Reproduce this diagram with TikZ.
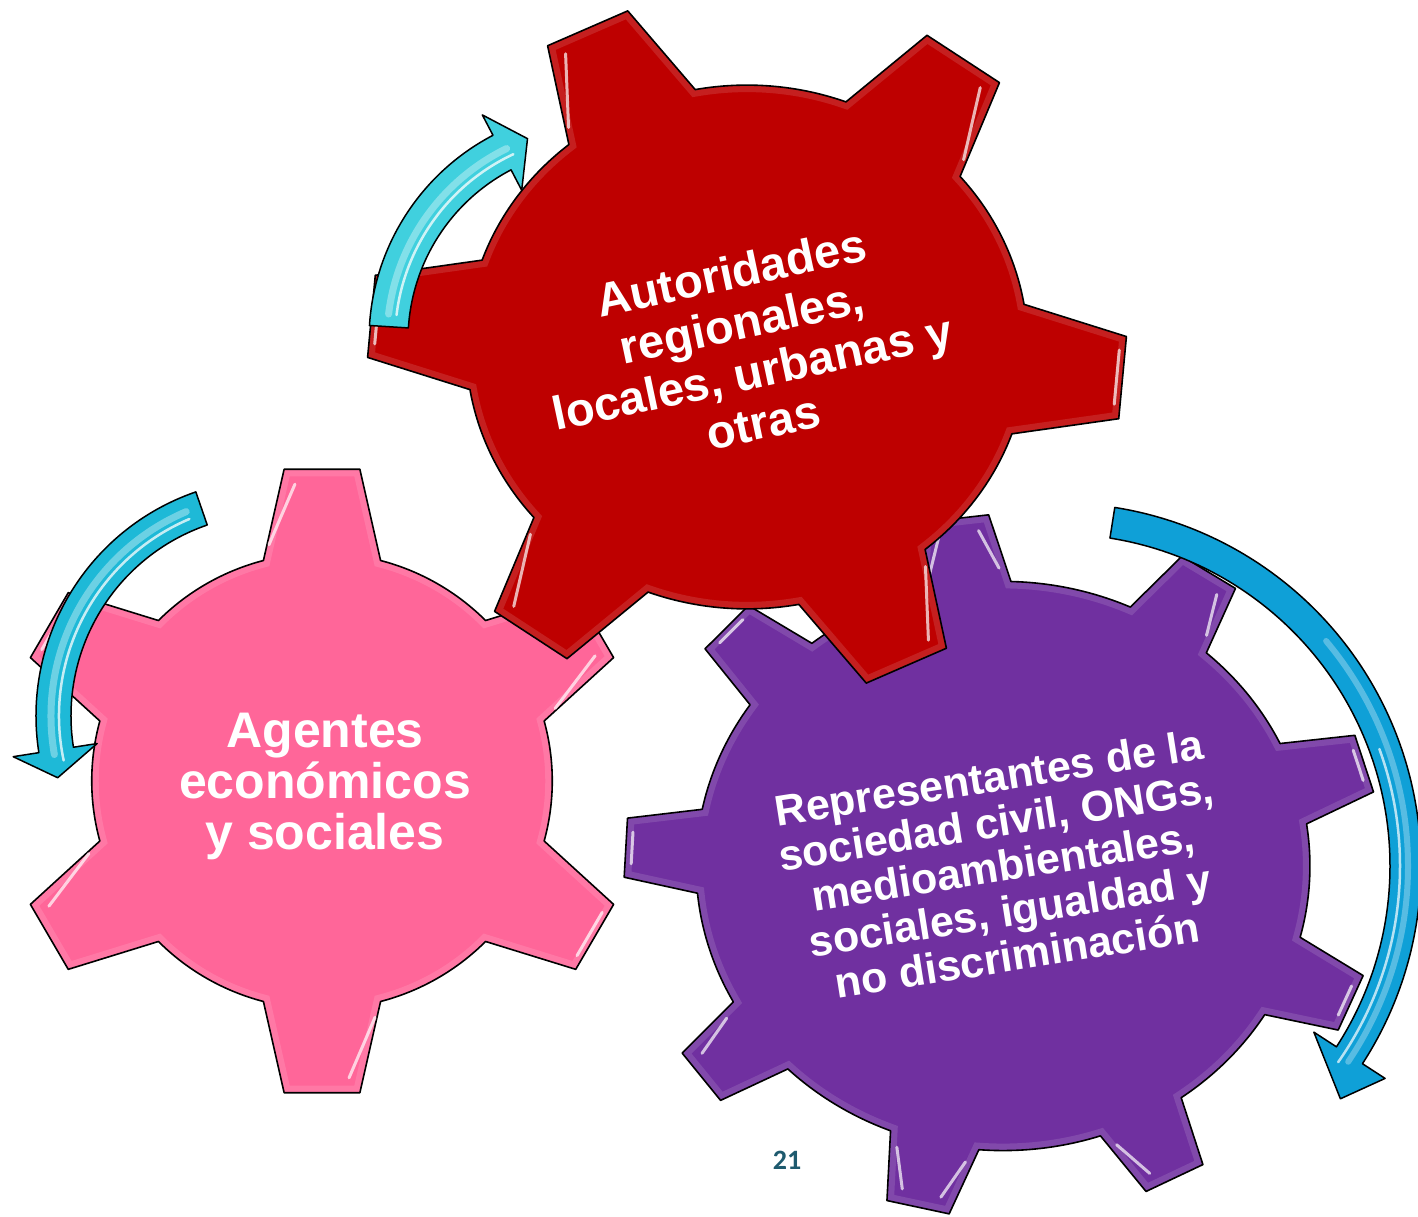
\documentclass[tikz,border=0pt]{standalone}
\usepackage{fontspec}
\setmainfont{Liberation Sans}
\newfontfamily\calib{Carlito}
\definecolor{gred}{RGB}{190,0,0}
\definecolor{gpink}{RGB}{255,102,153}
\definecolor{gpurple}{RGB}{112,48,160}
\definecolor{arrA}{RGB}{64,208,222}
\definecolor{arrB}{RGB}{30,185,215}
\definecolor{arrC}{RGB}{15,160,215}
\definecolor{pagenum}{RGB}{30,90,110}
% #1 N, #2 N-1, #3 offset angle, #4 tip radius, #5 body radius, #6 tip half-angle, #7 base half-angle
\newcommand\gearpath[7]{(#3-#7:#5) \foreach \i [evaluate=\i as \ang using #3+\i*360/#1] in {0,...,#2} { -- (\ang-#6:#4) -- (\ang+#6:#4) -- (\ang+#7:#5) arc[start angle=\ang+#7, end angle=\ang+360/#1-#7, radius=#5] } -- cycle}
% #1 R, #2 r, #3 bt, #4 bb, #5 side list angle/sign, #6 tip list
\newcommand\gearhl[6]{%
  \foreach \ang/\sg in {#5} { \draw[hl] ({\ang+\sg*(#4-2.2)}:{#2+14}) -- ({\ang+\sg*(#3-1.7)}:{#1-16}); }
  \foreach \ang in {#6} { \draw[hl] ({\ang-#3+2.2}:{#1-7}) -- ({\ang+#3-2.2}:{#1-7}); }
}
\newcommand\gear[9]{% #1 colour, then 7 gear params, #9 unused
  \fill[#1] \gearpath{#2}{#3}{#4}{#5}{#6}{#7}{#8};
  \begin{scope}
    \clip \gearpath{#2}{#3}{#4}{#5}{#6}{#7}{#8};
    \draw[white, opacity=.12, line width=14] \gearpath{#2}{#3}{#4}{#5}{#6}{#7}{#8};
  \end{scope}
  \draw[black, line width=1.6, line join=round] \gearpath{#2}{#3}{#4}{#5}{#6}{#7}{#8};
}
\tikzset{
  hl/.style={draw=white, opacity=.7, line width=3, line cap=round},
  gtext/.style={text=white, align=center, inner sep=0pt},
  arrowline/.style={draw=black, line width=1.5, line join=round},
  stripe/.style={draw=white, line cap=round}
}
\begin{document}
\begin{tikzpicture}[x=1pt,y=1pt]
\useasboundingbox (0,0) rectangle (1418,1216);
\clip (0,0) rectangle (1418,1216);

% pink gear
\begin{scope}[shift={(322,435)}, xscale=1.01]
  \gear{gpink}{6}{5}{90}{314}{228}{6.86}{14.74}{}
  \gearhl{314}{228}{6.86}{14.74}{90/1,30/-1,-90/1,-150/-1}{-30,150}
\end{scope}
\node[gtext, font={\bfseries\fontsize{50}{51}\selectfont}] (agentes) at (325,430) {Agentes\\económicos\\y sociales};

% purple gear
\begin{scope}[shift={(1003,350)}, xscale=1.03, yscale=0.955]
  \gear{gpurple}{9}{8}{97}{368}{298}{4.83}{8.49}{}
  \gearhl{368}{298}{4.83}{8.49}{97/1,97/-1,57/-1,-63/-1,-103/1,-103/-1,-143/-1}{17,-23,177,137}
\end{scope}
\node[gtext, rotate=9, font={\bfseries\fontsize{43}{45}\selectfont}] (repr) at (1003,350) {Representantes de la\\sociedad civil, ONGs,\\medioambientales,\\sociales, igualdad y\\no discriminación};

% red gear
\begin{scope}[shift={(747,869)}, xscale=1.04, yscale=0.97]
  \gear{gred}{6}{5}{115}{365}{270}{6.69}{14.37}{}
  \gearhl{365}{270}{6.69}{14.37}{115/1,55/-1,-65/1,-125/-1}{-5,175}
\end{scope}
\node[gtext, rotate=12, font={\bfseries\fontsize{47}{51}\selectfont}] (autor) at (747,869) {Autoridades\\regionales,\\locales, urbanas y\\otras};

% left arrow (pink gear)
\begin{scope}[shift={(273,500)}]
  \filldraw[fill=arrB, arrowline] (109:237) arc[start angle=109, end angle=188.9, radius=237] -- (188.9:263) -- (196:224) -- (188.9:178) -- (188.9:202) arc[start angle=188.9, end angle=109, radius=202] -- cycle;
  \draw[stripe, opacity=.35, line width=7] (113:222) arc[start angle=113, end angle=190, radius=222];
  \draw[stripe, opacity=.75, line width=2.5] (113:214) arc[start angle=113, end angle=192, radius=214];
\end{scope}

% top-left arrow (red gear)
\begin{scope}[shift={(600,876)}]
  \filldraw[fill=arrA, arrowline] (176.4:231) arc[start angle=176.4, end angle=117.6, radius=231] -- (117.6:254) -- (109.8:214) -- (117.6:169) -- (117.6:192) arc[start angle=117.6, end angle=176.4, radius=192] -- cycle;
  \draw[stripe, opacity=.35, line width=7] (173:213) arc[start angle=173, end angle=116, radius=213];
  \draw[stripe, opacity=.75, line width=2.5] (173:205) arc[start angle=173, end angle=115, radius=205];
\end{scope}

% right arrow (purple gear)
\begin{scope}[shift={(1058,350)}]
  \filldraw[fill=arrC, arrowline] (81:363) arc[start angle=81, end angle=-33, radius=363] -- (-33:390) -- (-39.5:366) -- (-33:305) -- (-33:332) arc[start angle=-33, end angle=81, radius=332] -- cycle;
  \draw[stripe, opacity=.3, line width=6] (40:350) arc[start angle=40, end angle=-34, radius=350];
  \draw[stripe, opacity=.7, line width=2.5] (20:342) arc[start angle=20, end angle=-35, radius=342];
\end{scope}

% page number
\node[text=pagenum, font={\calib\bfseries\fontsize{28}{30}\selectfont}, inner sep=0pt] (page) at (787,56) {21};
\end{tikzpicture}
\end{document}
